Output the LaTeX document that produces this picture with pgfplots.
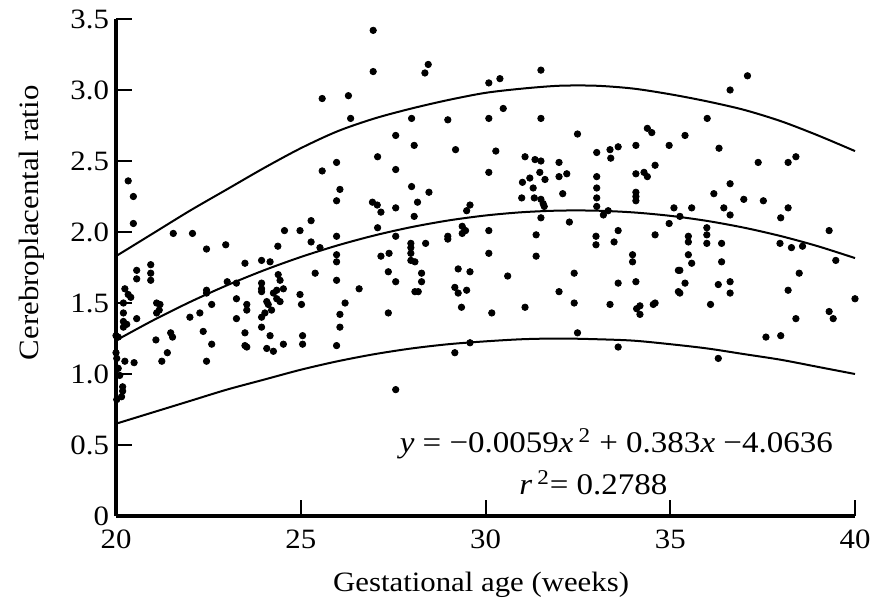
\documentclass[border=0pt]{standalone}
\usepackage{fontspec}
\setmainfont{Liberation Serif}[FakeStretch=1.1]
\usepackage{pgfplots}
\pgfplotsset{compat=1.18}
\begin{document}
\begin{tikzpicture}
\begin{axis}[
  scale only axis, width=369.5pt, height=248.5pt,
  xmin=20, xmax=40, ymin=0, ymax=3.5,
  axis x line=bottom, axis y line=left,
  axis line style={-, line width=1.6pt},
  tick align=inside, major tick length=8pt,
  major tick style={line width=1pt, black},
  xtick={20,25,30,35,40}, xticklabels={20,25,30,35,40},
  ytick={0,0.5,1,1.5,2,2.5,3,3.5},
  yticklabels={0,0.5,1.0,1.5,2.0,2.5,3.0,3.5},
  tick label style={font=\fontsize{14}{16}\selectfont},
  xticklabel style={yshift=-3.5pt},
  xlabel={Gestational age (weeks)}, ylabel={Cerebroplacental ratio},
  label style={font=\fontsize{14}{16}\selectfont},
  xlabel style={at={(axis description cs:0.494,-0.139)}, anchor=center},
  ylabel style={at={(axis description cs:-0.114,0.59)}, anchor=center},
  clip=false,
]
\addplot[only marks, mark=*, mark size=1.6pt, black] table {
x y
20.33 2.36
20.47 2.25
20.47 2.06
21.55 1.99
22.07 1.99
22.45 1.88
22.97 1.91
20.94 1.77
23.49 1.78
23.94 1.80
24.17 1.79
24.38 1.90
24.56 2.01
24.98 2.01
25.28 2.08
25.28 1.93
26.96 3.42
26.96 3.13
28.45 3.18
28.36 3.12
30.09 3.05
25.58 2.94
26.29 2.96
26.35 2.80
28.00 2.80
28.98 2.79
30.09 2.80
27.57 2.68
28.07 2.61
29.19 2.58
30.28 2.57
27.08 2.53
25.97 2.49
25.58 2.43
27.57 2.44
30.09 2.42
26.06 2.30
28.00 2.32
28.47 2.28
25.97 2.22
26.94 2.21
27.07 2.19
27.17 2.14
27.57 2.17
28.16 2.21
28.07 2.11
29.58 2.19
29.49 2.15
27.08 2.03
29.37 2.04
29.46 2.01
29.37 1.99
30.09 2.01
25.97 1.97
27.57 1.97
28.98 1.97
28.98 1.95
28.38 1.92
27.98 1.92
27.98 1.89
27.98 1.85
27.98 1.80
25.52 1.89
25.97 1.84
25.97 1.79
27.17 1.83
27.39 1.85
30.09 1.85
31.50 3.14
30.39 3.08
30.48 2.87
31.50 2.80
32.49 2.69
31.07 2.53
31.34 2.51
31.50 2.50
31.99 2.49
33.01 2.56
33.37 2.58
33.59 2.60
33.39 2.52
34.07 2.61
34.38 2.73
34.50 2.70
34.97 2.61
34.59 2.47
31.47 2.42
31.99 2.39
32.20 2.41
31.20 2.38
31.00 2.35
31.61 2.37
31.29 2.31
30.98 2.24
31.32 2.24
31.50 2.23
31.56 2.20
31.59 2.18
32.09 2.27
33.01 2.39
33.01 2.31
33.01 2.24
33.01 2.18
34.07 2.41
34.29 2.42
34.38 2.39
34.07 2.28
34.07 2.25
34.07 2.22
35.10 2.17
33.32 2.15
33.19 2.12
31.50 2.10
32.27 2.07
34.97 2.06
31.37 1.98
33.59 2.01
34.59 1.98
32.99 1.97
32.99 1.91
33.48 1.93
31.37 1.83
33.98 1.84
33.98 1.79
37.09 3.10
36.62 3.00
36.00 2.80
35.40 2.68
36.32 2.59
37.38 2.49
38.19 2.49
38.40 2.53
36.62 2.34
36.18 2.27
36.99 2.23
37.52 2.22
38.19 2.17
37.99 2.10
35.58 2.17
36.45 2.17
36.62 2.12
35.26 2.11
39.30 2.01
35.49 1.97
35.49 1.93
35.49 1.84
35.99 2.03
35.99 1.98
35.99 1.92
36.39 1.92
36.39 1.79
37.97 1.92
38.28 1.89
38.58 1.90
39.48 1.80
35.58 1.78
20.56 1.73
20.56 1.67
20.94 1.71
20.94 1.66
20.24 1.60
20.33 1.56
20.40 1.54
20.20 1.50
20.20 1.43
20.20 1.37
20.20 1.33
20.29 1.35
20.56 1.39
21.10 1.50
21.19 1.49
21.17 1.45
21.10 1.43
22.45 1.59
22.45 1.57
23.01 1.65
23.26 1.64
22.59 1.49
22.00 1.40
22.27 1.43
23.26 1.53
23.26 1.39
23.54 1.49
23.54 1.45
23.94 1.64
23.94 1.60
23.94 1.58
24.39 1.70
24.44 1.66
24.53 1.60
24.35 1.59
24.26 1.57
24.08 1.51
24.12 1.49
24.21 1.45
24.03 1.43
23.94 1.40
23.94 1.33
24.35 1.53
24.44 1.51
24.98 1.56
25.02 1.49
20.00 1.27
20.06 1.26
20.00 1.15
20.02 1.11
20.24 1.09
20.49 1.08
20.06 1.04
20.10 0.99
20.18 0.91
20.18 0.88
20.15 0.84
20.02 0.82
21.08 1.24
21.48 1.29
21.53 1.26
21.39 1.15
21.24 1.09
22.36 1.30
22.59 1.21
22.45 1.09
23.49 1.29
23.49 1.20
23.54 1.19
24.17 1.27
24.08 1.18
24.26 1.16
24.53 1.21
25.05 1.27
25.05 1.21
28.09 1.79
25.39 1.71
25.97 1.66
26.58 1.60
27.37 1.72
27.57 1.65
28.27 1.71
28.27 1.65
28.09 1.58
28.18 1.58
29.26 1.74
29.58 1.72
29.17 1.61
29.26 1.57
29.49 1.59
29.35 1.47
30.17 1.43
26.20 1.50
26.06 1.42
26.06 1.33
27.37 1.43
25.97 1.20
29.17 1.15
29.58 1.22
27.57 0.89
30.60 1.69
32.40 1.71
31.99 1.58
32.40 1.50
33.59 1.64
34.07 1.65
33.37 1.49
34.09 1.46
34.18 1.48
34.18 1.42
34.54 1.49
34.59 1.50
35.22 1.58
35.22 1.73
31.07 1.47
32.49 1.29
33.59 1.19
35.26 1.73
35.40 1.64
35.26 1.57
36.30 1.63
36.62 1.65
36.62 1.57
36.09 1.49
38.49 1.71
38.19 1.59
40.00 1.53
38.40 1.39
39.30 1.44
39.41 1.39
37.59 1.26
37.99 1.27
36.30 1.11
};
% fitted curve (values of the printed equation)
\addplot[black, line width=1pt, smooth, no markers] coordinates {
(20,1.2364) (21,1.3775) (22,1.5068) (23,1.6243) (24,1.7300) (25,1.8239)
(26,1.9060) (27,1.9763) (28,2.0348) (29,2.0815) (30,2.1164) (31,2.1395)
(32,2.1508) (33,2.1503) (34,2.1380) (35,2.1139) (36,2.0780) (37,2.0303)
(38,1.9708) (39,1.8995) (40,1.8164)};
% upper limit
\addplot[black, line width=1pt, smooth, no markers] coordinates {
(20,1.83) (21,1.99) (22,2.15) (23,2.30) (24,2.45) (25,2.59) (26,2.71)
(27,2.80) (28,2.87) (29,2.93) (30,2.98) (31,3.01) (32,3.03) (33,3.03)
(34,3.01) (35,2.97) (36,2.92) (37,2.86) (38,2.78) (39,2.68) (40,2.57)};
% lower limit
\addplot[black, line width=1pt, smooth, no markers] coordinates {
(20,0.65) (21,0.73) (22,0.81) (23,0.89) (24,0.96) (25,1.03) (26,1.09)
(27,1.14) (28,1.18) (29,1.21) (30,1.23) (31,1.245) (32,1.25) (33,1.245)
(34,1.235) (35,1.21) (36,1.18) (37,1.14) (38,1.10) (39,1.05) (40,1.00)};
\node[anchor=base, font=\fontsize{15}{17}\selectfont] at (axis cs:33.54,0.444)
  {\textit{y} = −0.0059\textit{x}\,\textsuperscript{2} + 0.383\textit{x} −4.0636};
\node[anchor=base, font=\fontsize{15}{17}\selectfont] at (axis cs:32.92,0.148)
  {\textit{r}\,\textsuperscript{2}= 0.2788};
\end{axis}
\pgfresetboundingbox
\path (-58pt,-45.5pt) rectangle (383.5pt,258pt);
\end{tikzpicture}
\end{document}
